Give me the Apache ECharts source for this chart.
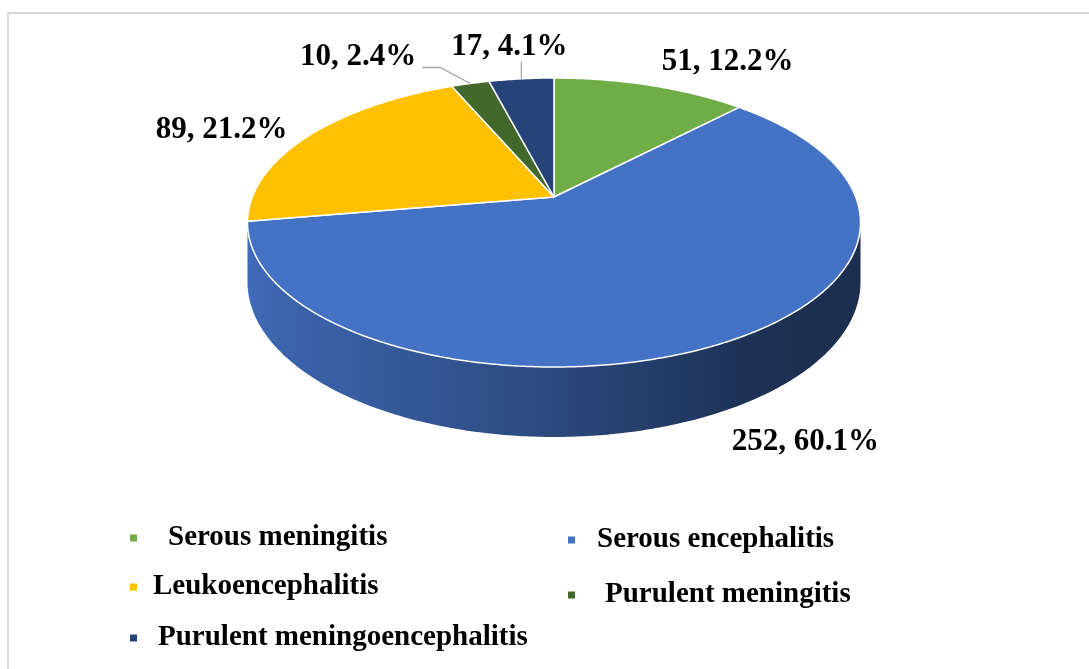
<!DOCTYPE html>
<html><head><meta charset="utf-8">
<script src="https://cdn.jsdelivr.net/npm/echarts@6/dist/echarts.min.js"></script>
<style>html,body{margin:0;padding:0;background:#fff}#c{width:1089px;height:669px}</style>
</head><body><div id="c"></div>
<script>
// ---- data ----
const categories = ['Serous meningitis', 'Serous encephalitis', 'Leukoencephalitis', 'Purulent meningitis', 'Purulent meningoencephalitis'];
const counts = [51, 252, 89, 10, 17];
const colors = ['#70AD47', '#4472C4', '#FFC000', '#43682B', '#264478'];

// ---- layout (not data) ----
// label offset from the slice's outer edge point at its mid angle; edge level 0 = top rim, 1 = bottom rim
const labelLayout = [
  { dx: 77, dy: -23, level: 0, leader: null },
  { dx: 84, dy: 30, level: 1, leader: null },
  { dx: -88, dy: -5, level: 0, leader: null },
  { dx: -112, dy: -27, level: 0, leader: [[-30, -16], [-48, -16]] },
  { dx: -12, dy: -32, level: 0, leader: [[0, -17]] }
];
// legend: [iconLeft, textCenterY, textPadLeft]
const legendLayout = [
  [130, 538, 26],
  [568, 540, 17],
  [130, 587, 11],
  [568, 595, 25],
  [130, 638, 16]
];

// ---- 3D pie projection ----
const CX = 554, CY = 197, R = 301.7, RY = 140, K = 0.1765, H = 57.6;
function proj(t, h) {
  const X = Math.sin(t), Z = Math.cos(t), d = 1 + K * Z;
  return [CX + R * X / d, CY + (-RY * Z + H * h) / d];
}
const TL = Math.acos(-K), TR = 2 * Math.PI - Math.acos(-K);
const total = counts.reduce((a, b) => a + b, 0);

function darken(hex, f) {
  const n = parseInt(hex.slice(1), 16);
  const c = [(n >> 16) & 255, (n >> 8) & 255, n & 255].map(v => Math.round(v * (1 - f)));
  return 'rgb(' + c.join(',') + ')';
}

function arc(a0, a1, h) {
  const pts = [];
  const n = Math.max(2, Math.ceil((a1 - a0) / 0.01));
  for (let j = 0; j <= n; j++) pts.push(proj(a0 + (a1 - a0) * j / n, h));
  return pts;
}

function makeRender(i) {
  return function (params, api) {
    const v = api.value(0);
    let before = 0;
    for (let j = 0; j < i; j++) before += counts[j];
    const a0 = before / total * 2 * Math.PI;
    const a1 = (before + v) / total * 2 * Math.PI;
    const children = [];
    const col = colors[i];
    // side wall (darkened toward the right)
    const s0 = Math.max(a0, TL), s1 = Math.min(a1, TR);
    if (s1 > s0) {
      const pts = arc(s0, s1, 0).concat(arc(s0, s1, 1).reverse());
      children.push({
        type: 'polygon', shape: { points: pts },
        style: {
          fill: {
            type: 'linear', x: CX - 310, y: 0, x2: CX + 310, y2: 0, global: true,
            colorStops: [
              { offset: 0, color: darken(col, 0.05) },
              { offset: 0.06, color: darken(col, 0.12) },
              { offset: 0.5, color: darken(col, 0.36) },
              { offset: 0.82, color: darken(col, 0.57) },
              { offset: 1, color: darken(col, 0.6) }
            ]
          },
          stroke: null
        }
      });
    }
    // top face
    const top = [[CX, CY]].concat(arc(a0, a1, 0));
    children.push({
      type: 'polygon', shape: { points: top },
      style: { fill: col, stroke: '#ffffff', lineWidth: 1.5, lineJoin: 'round' }
    });
    // label
    const lay = labelLayout[i];
    const mid = (a0 + a1) / 2;
    const e = proj(mid, lay.level);
    if (lay.leader) {
      const lp = [e].concat(lay.leader.map(p => [e[0] + p[0], e[1] + p[1]]));
      children.push({ type: 'polyline', shape: { points: lp }, style: { stroke: '#A6A6A6', lineWidth: 1.3, fill: null } });
    }
    const pct = (v / total * 100).toFixed(1) + '%';
    children.push({
      type: 'text',
      style: {
        text: v + ', ' + pct, x: e[0] + lay.dx, y: e[1] + lay.dy,
        fill: '#000', fontFamily: '"Liberation Serif", "DejaVu Serif", serif', fontWeight: 'bold', fontSize: 31,
        align: 'center', verticalAlign: 'middle'
      }
    });
    return { type: 'group', children: children };
  };
}

const chart = echarts.init(document.getElementById('c'), null, { renderer: 'canvas' });
chart.setOption({
  animation: false,
  backgroundColor: '#ffffff',
  graphic: [{
    type: 'rect', z: -10, silent: true,
    shape: { x: 8, y: 13, width: 1100, height: 680 },
    style: { fill: null, stroke: '#D9D9D9', lineWidth: 2 }
  }],
  legend: legendLayout.map((p, i) => ({
    data: [categories[i]], left: p[0], top: p[1] - 15, padding: 0,
    icon: 'rect', itemWidth: 7, itemHeight: 7, selectedMode: false,
    textStyle: {
      fontFamily: '"Liberation Serif", "DejaVu Serif", serif', fontWeight: 'bold', fontSize: 29,
      lineHeight: 30, color: '#000', padding: [0, 0, 0, p[2]]
    }
  })),
  series: categories.map((name, i) => ({
    type: 'custom', name: name, coordinateSystem: 'none',
    itemStyle: { color: colors[i] },
    data: [[counts[i]]],
    renderItem: makeRender(i)
  }))
});
</script>
</body></html>
